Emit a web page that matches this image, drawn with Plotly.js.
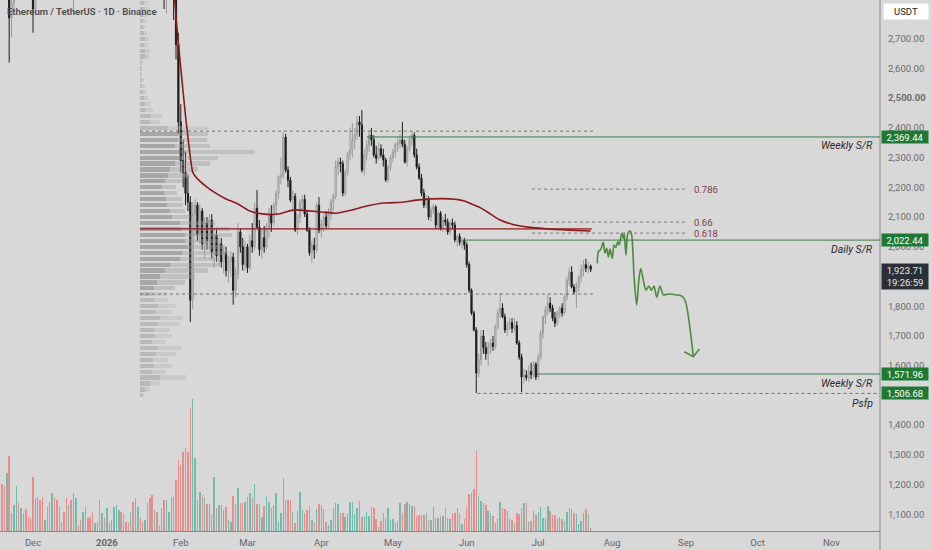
<!DOCTYPE html>
<html><head><meta charset="utf-8">
<script src="https://cdn.plot.ly/plotly-3.0.1.min.js"></script>
<style>html,body{margin:0;padding:0;background:#d8d8d8;}#chart{width:932px;height:550px;}</style>
</head><body><div id="chart"></div>
<script>
// ---- daily candles, 2025-11-17 .. 2026-07-23 ----
const firstDay = '2025-11-17';
const opens = [
3200,3050,3000,2900,2960,2770,2820,2920,2960,2940,3030,3020,3000,2990,
2960,2800,2990,3120,3090,2980,3020,3000,3120,3320,3300,3230,3080,3110,3060,2940,2950,2880,2970,2980,2975,2970,3000,2950,2945,2930,2920,2940,2945,2930,2970,
2965,3000,3100,3110,3140,3220,3260,3160,3110,3090,3085,3120,3100,3320,3360,3300,3290,3310,3280,3180,2980,3000,2950,2900,2950,2840,2900,3000,3010,2870,2680,
2420,2290,2250,2180,2150,1820,2110,2140,2040,2120,2010,2080,2020,2090,1980,2040,1970,2010,1950,1980,1920,1950,1965,1854,1910,2050,2000,1940,
2000,1930,2020,2000,2130,2066,1990,2030,2000,2060,2110,2080,2140,2180,2235,2240,2369,2258,2224,2157,2170,2056,2100,2150,2160,2110,2056,1980,2005,1990,2140,
2056,2075,2100,2070,2110,2150,2170,2270,2285,2280,2181,2250,2310,2325,2360,2376,2420,2410,2258,2309,2342,2376,2360,2309,2298,2330,2309,2292,2225,2268,
2300,2319,2342,2349,2359,2345,2285,2330,2360,2375,2309,2268,2231,2181,2140,2160,2100,2124,2134,2073,2113,2063,2090,2083,2050,2080,2073,2023,2035,2015,2022,
2006,1940,1854,1777,1720,1575,1619,1700,1660,1640,1663,1676,1665,1730,1777,1794,1764,1720,1735,1745,1725,1735,1676,1629,1562,1568,1560,1580,1570,1605,
1562,1629,1710,1764,1787,1810,1794,1760,1743,1777,1794,1777,1831,1888,1915,1865,1848,1865,1898,1922,1940,1928,1935];
const highs = [
3250,3150,3050,3020,2990,2850,2950,3010,3000,3060,3080,3070,3040,3020,
2980,3000,3150,3170,3120,3040,3060,3150,3350,3400,3320,3280,3130,3120,3170,2980,3000,3000,3000,2990,3000,3050,3010,2970,2960,2980,2950,2960,3000,2990,3000,
3010,3120,3130,3160,3250,3300,3270,3170,3140,3110,3140,3150,3350,3400,3370,3320,3320,3330,3290,3190,3050,3020,2960,2960,2960,2920,3020,3040,3030,2900,2720,
2480,2360,2320,2240,2170,2150,2160,2150,2145,2130,2100,2100,2110,2110,2060,2060,2030,2030,2000,2000,1970,1985,1980,1930,2080,2060,2030,2020,
2010,2040,2080,2150,2191,2090,2060,2070,2080,2130,2140,2150,2190,2240,2300,2386,2380,2270,2235,2190,2180,2110,2160,2175,2175,2120,2065,2020,2030,2150,2167,
2090,2110,2120,2130,2160,2180,2290,2300,2300,2290,2260,2320,2400,2416,2400,2440,2440,2460,2330,2360,2390,2400,2375,2340,2350,2345,2330,2300,2275,2310,
2330,2350,2365,2380,2420,2360,2340,2370,2385,2385,2330,2280,2245,2195,2175,2170,2135,2145,2140,2120,2120,2100,2110,2095,2090,2095,2085,2040,2045,2030,2030,
2015,1950,1860,1785,1730,1640,1720,1720,1680,1680,1690,1700,1740,1790,1845,1810,1775,1750,1760,1760,1760,1750,1685,1640,1590,1585,1600,1610,1615,1612,
1640,1720,1770,1800,1840,1830,1805,1780,1785,1800,1810,1840,1900,1930,1935,1875,1880,1905,1940,1955,1960,1950,1940];
const lows = [
2980,2900,2860,2870,2620,2705,2800,2880,2890,2920,2990,2980,2950,2930,
2720,2790,2980,3050,2950,2960,2970,2990,3100,3250,3180,3050,3060,3040,2920,2890,2870,2780,2930,2950,2940,2950,2920,2900,2910,2900,2910,2920,2910,2920,2950,
2960,2990,3070,3090,3120,3180,3130,3080,3060,3070,3070,3050,3090,3300,3280,3270,3280,3250,3150,2950,2900,2920,2880,2890,2800,2785,2880,2980,2763,2630,2380,
2250,2200,2140,2120,1747,1790,2040,2020,2010,1990,1960,1990,1990,1960,1930,1950,1940,1930,1910,1900,1880,1900,1805,1830,1890,1980,1920,1920,
1912,1920,1980,1990,2060,1970,1960,1980,1990,2030,2050,2070,2110,2160,2210,2230,2250,2200,2150,2120,2050,2040,2080,2120,2100,2050,1970,1945,1960,1980,2046,
2030,2050,2060,2060,2090,2120,2160,2240,2250,2170,2170,2240,2290,2300,2330,2360,2370,2250,2240,2290,2320,2340,2300,2280,2290,2300,2270,2218,2215,2255,
2285,2300,2320,2330,2335,2280,2270,2320,2340,2300,2260,2225,2170,2130,2130,2090,2085,2110,2060,2060,2055,2050,2070,2040,2040,2060,2015,2000,2005,1995,1990,
1930,1845,1770,1715,1508,1560,1600,1640,1620,1600,1640,1650,1655,1720,1760,1760,1710,1700,1720,1710,1715,1670,1620,1511,1540,1550,1545,1555,1560,1552,
1555,1620,1690,1740,1770,1780,1750,1730,1735,1760,1765,1770,1820,1870,1860,1840,1794,1850,1880,1900,1915,1910,1915];
const closes = [
3050,3000,2900,2960,2770,2820,2920,2960,2940,3030,3020,3000,2990,2960,
2800,2990,3120,3090,2980,3020,3000,3120,3320,3300,3230,3080,3110,3060,2940,2950,2880,2970,2980,2975,2970,3000,2950,2945,2930,2920,2940,2945,2930,2970,2965,
3000,3100,3110,3140,3220,3260,3160,3110,3090,3085,3120,3100,3320,3360,3300,3290,3310,3280,3180,2980,3000,2950,2900,2950,2840,2900,3000,3010,2870,2680,2420,
2290,2250,2180,2150,1820,2110,2140,2040,2120,2010,2080,2020,2090,1980,2040,1970,2010,1950,1980,1920,1950,1965,1854,1910,2050,2000,1940,2000,
1930,2020,2000,2130,2066,1990,2030,2000,2060,2110,2080,2140,2180,2235,2240,2369,2258,2224,2157,2170,2056,2100,2150,2160,2110,2056,1980,2005,1990,2140,2056,
2075,2100,2070,2110,2150,2170,2270,2285,2280,2181,2250,2310,2325,2360,2376,2420,2410,2258,2309,2342,2376,2360,2309,2298,2330,2309,2292,2225,2268,2300,
2319,2342,2349,2359,2345,2285,2330,2360,2375,2309,2268,2231,2181,2140,2160,2100,2124,2134,2073,2113,2063,2090,2083,2050,2080,2073,2023,2035,2015,2022,2006,
1940,1854,1777,1720,1575,1619,1700,1660,1640,1663,1676,1665,1730,1777,1794,1764,1720,1735,1745,1725,1735,1676,1629,1562,1568,1560,1580,1570,1605,1562,
1629,1710,1764,1787,1810,1794,1760,1743,1777,1794,1777,1831,1888,1915,1865,1848,1865,1898,1922,1940,1928,1935,1923.71];
const volumes = [
48,47,45,58,75,18,26,45,28,23,18,22,14,13,
54,33,34,31,34,11,24,29,38,34,31,24,9,19,33,26,31,38,33,6,11,19,24,13,14,19,8,9,31,18,14,
23,8,11,24,26,21,19,18,9,8,19,29,33,24,14,9,11,28,33,36,21,19,6,23,31,31,19,34,35,51,71,
66,79,83,79,123,132,73,31,39,36,34,27,27,16,54,23,26,26,21,24,11,9,35,27,43,28,28,29,
34,38,34,47,27,27,14,25,35,29,23,26,38,9,18,53,31,31,31,19,8,20,39,21,18,21,25,11,9,22,27,
26,22,9,6,11,23,28,27,18,18,14,17,29,29,17,23,30,14,15,19,15,24,23,12,4,10,18,13,23,11,
12,8,10,28,18,27,29,27,25,25,15,16,16,16,18,11,11,24,13,13,15,15,23,13,12,18,18,23,18,7,12,
24,37,38,42,80,35,30,28,26,20,18,15,8,12,29,23,22,20,12,11,8,18,17,23,28,28,9,10,20,16,
19,24,13,13,25,20,16,16,12,14,12,10,19,23,22,18,17,7,10,18,22,17,3];

// ---- visible-range volume profile (rows of 20 USDT) ----
const profilePrices = [1500,1520,1540,1560,1580,1600,1620,1640,1660,1680,1700,1720,1740,1760,1780,1800,1820,1840,1860,1880,1900,1920,1940,1960,1980,2000,2020,2040,2060,2080,2100,2120,2140,2160,2180,2200,2220,2240,2260,2280,2300,2320,2340,2360,2380,2400,2420,2440,2460,2480,2500,2520,2540,2560,2580,2600,2620,2640,2660,2680,2700,2720,2740,2760,2780,2800,2820];
const profileBuy  = [2,5,10,20,12,14,13,16,18,12,15,14,18,20,16,18,14,12,14,17,20,25,30,40,42,48,45,45,42,40,32,30,27,26,24,22,25,28,30,35,40,45,35,38,38,28,10,11,6,5,4,3,2,2,1,1,1,5,5,4,5,4,3,3,4,5,4];
const profileSell = [2,5,10,26,14,18,15,20,24,14,17,16,22,23,16,18,14,15,21,28,35,43,50,38,46,37,33,47,48,35,18,15,16,16,13,14,17,22,28,35,38,70,35,29,30,40,10,11,7,6,4,3,3,2,1,1,2,4,5,4,4,3,2,3,4,5,4];
const valueAreaHigh = 2389, valueAreaLow = 1841, pocLevel = 2060;

// ---- anchored VWAP ----
const vwapDates = ['2026-01-29','2026-01-30','2026-01-31','2026-02-01','2026-02-02','2026-02-03','2026-02-04','2026-02-05','2026-02-06','2026-02-07','2026-02-09','2026-02-12','2026-02-15','2026-02-20','2026-02-25','2026-03-02','2026-03-08','2026-03-14','2026-03-17','2026-03-21','2026-04-01','2026-04-07','2026-04-14','2026-04-20','2026-04-27','2026-05-05','2026-05-11','2026-05-17','2026-05-25','2026-05-31','2026-06-03','2026-06-07','2026-06-11','2026-06-15','2026-06-20','2026-06-27','2026-07-05','2026-07-14','2026-07-23'];
const vwapValues = [2880,2773,2685,2601,2520,2440,2369,2302,2251,2238,2221,2201,2184,2161,2144,2120,2110,2110,2117,2124,2117,2113,2124,2137,2147,2150,2157,2161,2161,2154,2144,2130,2110,2090,2076,2066,2060,2056,2053];

// ---- hand-drawn projection ----
const projDates = ['2026-07-25 19:00','2026-07-26 05:00','2026-07-27 05:00','2026-07-28 07:00','2026-07-29 00:00','2026-07-29 17:00','2026-07-30 10:00','2026-07-31 02:00','2026-08-01 02:00','2026-08-01 19:00','2026-08-02 14:00','2026-08-03 10:00','2026-08-04 00:00','2026-08-05 00:00','2026-08-05 17:00','2026-08-06 02:00','2026-08-06 19:00','2026-08-07 14:00','2026-08-08 12:00','2026-08-09 05:00','2026-08-10 05:00','2026-08-11 07:00','2026-08-12 05:00','2026-08-13 00:00','2026-08-14 02:00','2026-08-15 05:00','2026-08-16 10:00','2026-08-17 12:00','2026-08-18 14:00','2026-08-19 17:00','2026-08-21 02:00','2026-08-22 12:00','2026-08-24 14:00','2026-08-28 02:00','2026-08-30 05:00','2026-08-31 14:00','2026-09-04 02:00'];
const projPrices = [1944,1983,1991,2015,1978,1995,1966,1992,1961,2006,1998,2017,2006,2045,2028,2045,1972,2045,2054,2039,1899,1804,1888,1927,1888,1854,1868,1854,1868,1830,1868,1838,1841,1838,1834,1821,1630];
const arrowDates = ['2026-08-31 07:00','2026-09-04 02:00','2026-09-06 14:00'];
const arrowPrices = [1647,1630,1656];

// ---- levels ----
const srLevels = [2369.44, 2022.44, 1571.96];
const srLabels = ['Weekly S/R','Daily S/R','Weekly S/R'];
const srStarts = ['2026-04-20','2026-05-30 10:00','2026-06-30 12:00'];
const psfpLevel = 1506.68;
const fibLevels = [2194, 2083, 2046];
const fibLabels = ['0.786','0.66','0.618'];
const lastPrice = 1923.71;
const countdown = '19:26:59';

// ---- axes ticks (1,500 and 1,900 sit under the price badges) ----
const monthTicks = ['2025-12-01','2026-01-01','2026-02-01','2026-03-01','2026-04-01','2026-05-01','2026-06-01','2026-07-01','2026-08-01','2026-09-01','2026-10-01','2026-11-01'];
const monthLabels = ['Dec','<b>2026</b>','Feb','Mar','Apr','May','Jun','Jul','Aug','Sep','Oct','Nov'];
const priceTicks = [1100,1200,1300,1400,1600,1700,1800,2000,2100,2200,2300,2400,2500,2600,2700];
const priceLabels = ['1,100.00','1,200.00','1,300.00','1,400.00','1,600.00','1,700.00','1,800.00','2,000.00','2,100.00','2,200.00','2,300.00','2,400.00','<b>2,500.00</b>','2,600.00','2,700.00'];

// ---- build ----
const dates = opens.map((_, i) => {
  const d = new Date(firstDay + 'T00:00:00Z'); d.setUTCDate(d.getUTCDate() + i);
  return d.toISOString().slice(0, 10);
});
const volColors = opens.map((o, i) => closes[i] >= o ? '#72bbac' : '#e78e8d');
const inVA = p => p >= valueAreaLow && p <= valueAreaHigh;
const buyColors = profilePrices.map(p => inVA(p) ? 'rgba(110,110,110,0.48)' : 'rgba(140,140,140,0.4)');
const sellColors = profilePrices.map(p => inVA(p) ? 'rgba(160,160,160,0.42)' : 'rgba(180,180,180,0.38)');

const xRange = ['2025-11-17 03:36', '2026-11-21 09:36'];
const profStart = '2026-01-14 21:00', profEnd = '2026-07-24 12:00', rightEnd = xRange[1];
const FONT = 'Roboto, "Liberation Sans", Arial, sans-serif';

const traces = [
  {type:'candlestick', x:dates, open:opens, high:highs, low:lows, close:closes, xaxis:'x', yaxis:'y',
   increasing:{line:{color:'#9a9a9a', width:1}, fillcolor:'#e6e6e6'},
   decreasing:{line:{color:'#1c1c1c', width:1}, fillcolor:'#1c1c1c'}, hoverinfo:'skip'},
  {type:'bar', x:dates, y:volumes, xaxis:'x', yaxis:'y2', marker:{color:volColors, line:{width:0}},
   width:0.6*86400000, hoverinfo:'skip'},
  {type:'bar', orientation:'h', y:profilePrices, x:profileBuy, xaxis:'x2', yaxis:'y', width:14,
   marker:{color:buyColors, line:{width:0}}, hoverinfo:'skip'},
  {type:'bar', orientation:'h', y:profilePrices, x:profileSell, xaxis:'x2', yaxis:'y', width:14,
   marker:{color:sellColors, line:{width:0}}, hoverinfo:'skip'},
  {type:'scatter', mode:'lines', x:vwapDates, y:vwapValues, xaxis:'x3', yaxis:'y',
   line:{color:'#8e1b1b', width:1.6, shape:'spline', smoothing:0.6}, hoverinfo:'skip'},
  {type:'scatter', mode:'lines', x:projDates, y:projPrices, xaxis:'x3', yaxis:'y',
   line:{color:'#4b8a3f', width:1.6, shape:'spline', smoothing:0.8}, hoverinfo:'skip'},
  {type:'scatter', mode:'lines', x:arrowDates, y:arrowPrices, xaxis:'x3', yaxis:'y',
   line:{color:'#4b8a3f', width:1.6}, hoverinfo:'skip'}
];

const shapes = [
  {type:'line', xref:'x', yref:'y', x0:profStart, x1:profEnd, y0:valueAreaHigh, y1:valueAreaHigh, line:{color:'#6e6e6e', width:1, dash:'dot'}},
  {type:'line', xref:'x', yref:'y', x0:profStart, x1:profEnd, y0:valueAreaLow, y1:valueAreaLow, line:{color:'#6e6e6e', width:1, dash:'dot'}},
  {type:'line', xref:'x', yref:'y', x0:profStart, x1:'2026-07-23 12:00', y0:pocLevel, y1:pocLevel, line:{color:'#8e1b1b', width:1.2}},
  {type:'line', xref:'x', yref:'y', x0:'2026-06-05 12:00', x1:rightEnd, y0:psfpLevel, y1:psfpLevel, line:{color:'#6e6e6e', width:1, dash:'dot'}},
  {type:'line', xref:'paper', yref:'paper', x0:1, x1:1, y0:-0.04, y1:1, line:{color:'#8a8a8a', width:1}}
];
srLevels.forEach((lv, i) => shapes.push({type:'line', xref:'x', yref:'y', x0:srStarts[i], x1:rightEnd, y0:lv, y1:lv, line:{color:'#3f7d46', width:1}}));
fibLevels.forEach(lv => shapes.push({type:'line', xref:'x', yref:'y', x0:'2026-06-28 10:00', x1:'2026-09-01', y0:lv, y1:lv, line:{color:'#777', width:1, dash:'dot'}}));

const fmt = v => v.toLocaleString('en-US', {minimumFractionDigits:2, maximumFractionDigits:2});
const annotations = [
  {xref:'paper', yref:'paper', x:0, y:1, xanchor:'left', yanchor:'top', xshift:5, yshift:-4, showarrow:false,
   text:'Ethereum / TetherUS · 1D · Binance', font:{family:FONT, size:9.5, color:'#4a4a4a', weight:600}},
  {xref:'paper', yref:'paper', x:1, y:1, xanchor:'left', yanchor:'top', xshift:3, yshift:-3, showarrow:false,
   text:'USDT', bgcolor:'#ffffff', width:41, height:12, borderpad:1.5, font:{family:FONT, size:9.5, color:'#222'}},
  {xref:'paper', yref:'y', x:1, y:lastPrice, xanchor:'left', yanchor:'top', xshift:1, yshift:6, showarrow:false,
   text:fmt(lastPrice) + '<br>' + countdown, bgcolor:'#2b2f36', width:44, borderpad:1, font:{family:FONT, size:9.5, color:'#e8e8e8'}}
];
srLevels.concat([psfpLevel]).forEach(lv => annotations.push({xref:'paper', yref:'y', x:1, y:lv, xanchor:'left', yanchor:'middle', xshift:1, showarrow:false,
   text:fmt(lv), bgcolor:'#1e7a33', width:44, height:10, borderpad:1, font:{family:FONT, size:9.5, color:'#ffffff'}}));
srLevels.forEach((lv, i) => annotations.push({xref:'paper', yref:'y', x:1, y:lv, xanchor:'right', yanchor:'middle', xshift:-5, yshift:-9, showarrow:false,
   text:'<i>' + srLabels[i] + '</i>', font:{family:FONT, size:10.5, color:'#2a2a2a'}}));
annotations.push({xref:'paper', yref:'y', x:1, y:psfpLevel, xanchor:'right', yanchor:'middle', xshift:-5, yshift:-10, showarrow:false,
   text:'<i>Psfp</i>', font:{family:FONT, size:10.5, color:'#2a2a2a'}});
fibLevels.forEach((lv, i) => annotations.push({xref:'x', yref:'y', x:'2026-09-03 12:00', y:lv, xanchor:'left', yanchor:'middle', showarrow:false,
   text:fibLabels[i], font:{family:FONT, size:9.5, color:'#7a3d45'}}));

const layout = {
  width:932, height:550, margin:{l:0, r:52, t:0, b:19},
  paper_bgcolor:'#d8d8d8', plot_bgcolor:'#d8d8d8', showlegend:false, hovermode:false,
  barmode:'stack', bargap:0,
  font:{family:FONT, size:9.5, color:'#666'},
  xaxis:{type:'date', range:xRange, tickmode:'array', tickvals:monthTicks, ticktext:monthLabels,
         rangeslider:{visible:false},
         showgrid:false, zeroline:false, showline:true, linecolor:'#8a8a8a', linewidth:1,
         ticks:'outside', ticklen:3, tickcolor:'rgba(0,0,0,0)', tickfont:{family:FONT, size:9.5, color:'#666'}, fixedrange:true},
  xaxis2:{overlaying:'x', range:[-140, 740], visible:false, fixedrange:true},
  xaxis3:{overlaying:'x', type:'date', range:xRange, visible:false, fixedrange:true},
  yaxis:{side:'right', range:[1043.8, 2830.2], tickmode:'array', tickvals:priceTicks, ticktext:priceLabels,
         showgrid:false, zeroline:false, showline:false, ticks:'outside', ticklen:5, tickcolor:'rgba(0,0,0,0)',
         tickfont:{family:FONT, size:9.5, color:'#6a6a6a'}, fixedrange:true},
  yaxis2:{overlaying:'y', range:[0, 531], visible:false, fixedrange:true},
  shapes:shapes, annotations:annotations
};
Plotly.newPlot('chart', traces, layout, {staticPlot:true, displayModeBar:false});
</script></body></html>
